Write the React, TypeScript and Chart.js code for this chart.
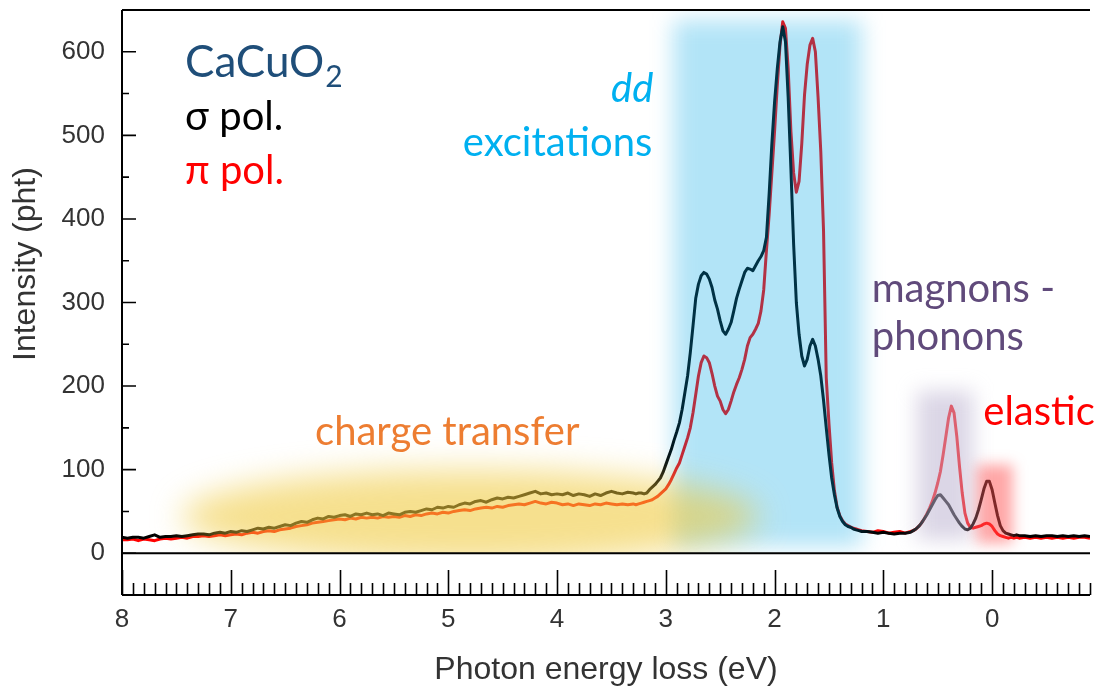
import React, { useEffect, useRef } from "react";
import { Chart, registerables } from "chart.js";

Chart.register(...registerables);

// Photon energy loss (eV) and RIXS intensity (pht) for CaCuO2, sigma and pi polarisation.
// Charge-transfer tail
const energyTail = [
  8.0, 7.95, 7.9, 7.85, 7.8, 7.75, 7.7, 7.65, 7.6, 7.55,
  7.5, 7.45, 7.4, 7.35, 7.3, 7.25, 7.2, 7.15, 7.1, 7.05,
  7.0, 6.95, 6.9, 6.85, 6.8, 6.75, 6.7, 6.65, 6.6, 6.55,
  6.5, 6.45, 6.4, 6.35, 6.3, 6.25, 6.2, 6.15, 6.1, 6.05,
  6.0, 5.95, 5.9, 5.85, 5.8, 5.75, 5.7, 5.65, 5.6, 5.55,
  5.5, 5.45, 5.4, 5.35, 5.3, 5.25, 5.2, 5.15, 5.1, 5.05,
  5.0, 4.95, 4.9, 4.85, 4.8, 4.75, 4.7, 4.65, 4.6, 4.55,
  4.5, 4.45, 4.4, 4.35, 4.3, 4.25, 4.2, 4.15, 4.1, 4.05,
  4.0, 3.95, 3.9, 3.85, 3.8, 3.75, 3.7, 3.65, 3.6, 3.55,
  3.5, 3.45, 3.4, 3.35, 3.3,
];
const sigmaTail = [
  19, 18, 19, 19, 18, 20, 22, 19, 20, 20,
  21, 20, 21, 22, 23, 23, 22, 24, 25, 24,
  26, 25, 27, 26, 28, 30, 29, 31, 30, 32,
  34, 33, 36, 38, 37, 40, 42, 41, 44, 43,
  45, 46, 44, 47, 46, 48, 46, 47, 45, 48,
  47, 46, 49, 50, 49, 51, 53, 52, 55, 54,
  56, 55, 58, 60, 59, 62, 63, 61, 64, 66,
  65, 67, 66, 68, 70, 72, 74, 71, 72, 70,
  71, 70, 72, 69, 71, 70, 68, 71, 69, 72,
  74, 72, 71, 73, 72,
];
const piTail = [
  16, 16, 17, 15, 17, 16, 15, 17, 18, 17,
  18, 19, 18, 20, 20, 21, 20, 21, 22, 21,
  22, 23, 22, 24, 25, 24, 26, 27, 26, 28,
  29, 30, 32, 33, 34, 36, 37, 38, 39, 40,
  41, 40, 42, 41, 43, 42, 43, 42, 44, 43,
  44, 43, 45, 44, 46, 45, 47, 48, 47, 49,
  48, 50, 51, 52, 51, 53, 54, 55, 54, 56,
  55, 57, 58, 59, 58, 60, 62, 60, 59, 61,
  60, 58, 59, 57, 59, 58, 57, 59, 58, 60,
  59, 58, 59, 58, 59,
];

// dd excitations
const energyDD = [
  3.275, 3.25, 3.225, 3.2, 3.175, 3.15, 3.125, 3.1, 3.075, 3.05,
  3.025, 3.0, 2.975, 2.95, 2.925, 2.9, 2.875, 2.85, 2.825, 2.8,
  2.775, 2.75, 2.725, 2.7, 2.675, 2.65, 2.625, 2.6, 2.575, 2.55,
  2.525, 2.5, 2.475, 2.45, 2.425, 2.4, 2.375, 2.35, 2.325, 2.3,
  2.275, 2.25, 2.225, 2.2, 2.175, 2.15, 2.125, 2.1, 2.075, 2.05,
  2.025, 2.0, 1.975, 1.95, 1.925, 1.9, 1.875, 1.85, 1.825, 1.8,
  1.775, 1.75, 1.725, 1.7, 1.675, 1.65, 1.625, 1.6, 1.575, 1.55,
  1.525, 1.5, 1.475, 1.45, 1.425, 1.4, 1.375, 1.35, 1.325, 1.3,
  1.275, 1.25, 1.225, 1.2,
];
const sigmaDD = [
  71, 72, 72, 71, 72, 76, 79, 82, 86, 90,
  97, 106, 115, 124, 135, 145, 156, 172, 192, 212,
  240, 272, 305, 322, 332, 336, 334, 328, 318, 303,
  292, 278, 266, 262, 268, 276, 290, 305, 316, 326,
  336, 341, 340, 338, 344, 350, 355, 362, 378, 430,
  490, 540, 580, 612, 630, 612, 545, 460, 370, 300,
  262, 236, 224, 232, 248, 256, 248, 232, 212, 183,
  150, 118, 90, 70, 54, 44, 38, 34, 32, 31,
  29, 28, 27, 26,
];
const piDD = [
  58, 59, 60, 61, 62, 63, 64, 66, 68, 71,
  74, 77, 82, 88, 95, 102, 108, 118, 128, 138,
  150, 168, 190, 212, 228, 236, 234, 228, 215, 200,
  188, 182, 172, 167, 172, 182, 193, 202, 210, 220,
  232, 248, 258, 262, 268, 275, 290, 315, 362, 405,
  455, 505, 560, 608, 636, 628, 580, 505, 455, 432,
  445, 490, 548, 585, 608, 616, 600, 545, 480, 386,
  210, 155, 108, 75, 55, 45, 39, 35, 33, 31,
  30, 29, 28, 27,
];

// magnons, phonons and the elastic line
const energyLow = [
  1.15, 1.1, 1.05, 1.0, 0.95, 0.9, 0.85, 0.8, 0.75,
  0.725, 0.7, 0.675, 0.65, 0.625, 0.6, 0.575, 0.55, 0.525, 0.5,
  0.475, 0.45, 0.425, 0.4, 0.375, 0.35, 0.325, 0.3, 0.275, 0.25,
  0.225, 0.2, 0.175, 0.15, 0.125, 0.1, 0.075, 0.05, 0.025, 0.0,
  -0.025, -0.05, -0.075, -0.1, -0.125, -0.15, -0.175, -0.2, -0.225, -0.25,
  -0.3, -0.35, -0.4, -0.45, -0.5, -0.55, -0.6, -0.65, -0.7, -0.75, -0.8, -0.85, -0.9,
];
const sigmaLow = [
  26, 25, 24, 25, 24, 23, 24, 24, 25,
  27, 29, 32, 36, 41, 46, 52, 58, 64, 69,
  70, 66, 62, 58, 52, 46, 41, 36, 32, 29,
  28, 30, 35, 42, 52, 64, 77, 86, 86, 76,
  60, 45, 33, 27, 24, 23, 22, 21, 22, 21,
  21, 20, 21, 20, 21, 21, 20, 21, 20, 21, 20, 21, 20,
];
const piLow = [
  26, 25, 27, 26, 24, 25, 26, 24, 26,
  27, 29, 32, 36, 41, 47, 54, 62, 72, 84,
  98, 118, 140, 162, 176, 168, 140, 104, 72, 48,
  36, 31, 30, 31, 32, 33, 35, 36, 35, 32,
  27, 23, 21, 20, 19, 18, 19, 18, 19, 18,
  19, 18, 19, 18, 19, 18, 19, 18, 19, 18, 19, 19, 18,
];

const energy = [...energyTail, ...energyDD, ...energyLow];
const sigmaPol = [...sigmaTail, ...sigmaDD, ...sigmaLow];
const piPol = [...piTail, ...piDD, ...piLow];

const xTickValues = [8, 7, 6, 5, 4, 3, 2, 1, 0];
const yTickValues = [0, 100, 200, 300, 400, 500, 600];
const yMinorValues = [50, 150, 250, 350, 450, 550];

// Shaded spectral regions, in data units (eV, pht)
const bands = [
  { kind: "rect", x0: 2.93, x1: 1.2, y0: 8, y1: 638, color: "rgb(0,165,228)", alpha: 0.3, blur: 11 },
  { kind: "ellipse", x0: 7.45, x1: 2.15, y0: -12, y1: 100, color: "rgb(240,202,60)", alpha: 0.58, blur: 16 },
  { kind: "rect", x0: 0.69, x1: 0.175, y0: 16, y1: 194, color: "rgb(190,180,210)", alpha: 0.55, blur: 10 },
  { kind: "rect", x0: 0.14, x1: -0.19, y0: 12, y1: 106, color: "rgb(255,80,80)", alpha: 0.5, blur: 7 },
];

const NOTE_FONT = 'Lato, "Noto Sans", sans-serif';
const notes = [
  { text: "charge transfer", x: 6.225, y: 130, color: "#ed7d31", size: 40, align: "left", italic: false },
  { text: "dd", x: 3.115, y: 540, color: "#00b0f0", size: 40, align: "right", italic: true },
  { text: "excitations", x: 3.124, y: 475, color: "#00b0f0", size: 40, align: "right", italic: false },
  { text: "magnons -", x: 1.107, y: 301, color: "#604a7b", size: 40, align: "left", italic: false },
  { text: "phonons", x: 1.107, y: 243, color: "#604a7b", size: 40, align: "left", italic: false },
  { text: "elastic", x: 0.081, y: 153, color: "#ff0000", size: 40, align: "left", italic: false },
  { text: "σ pol.", x: 7.42, y: 506, color: "#000000", size: 40, align: "left", italic: false },
  { text: "π pol.", x: 7.42, y: 442, color: "#ff0000", size: 40, align: "left", italic: false },
];
const sample = { text: "CaCuO", sub: "2", x: 7.42, y: 570, color: "#1f4e79", size: 44, subSize: 30 };

const AXIS_FONT = '"Liberation Sans", Arial, sans-serif';

const decorations = {
  id: "decorations",
  afterDatasetsDraw(chart: any) {
    const { ctx, chartArea: a, scales } = chart;
    const xs = scales.x;
    const ys = scales.y;
    const zeroY = ys.getPixelForValue(0);

    // translucent region highlights laid over the spectra
    ctx.save();
    ctx.beginPath();
    ctx.rect(a.left, a.top, a.right - a.left, zeroY - a.top);
    ctx.clip();
    for (const b of bands) {
      const px0 = xs.getPixelForValue(b.x0);
      const px1 = xs.getPixelForValue(b.x1);
      const py0 = ys.getPixelForValue(b.y1);
      const py1 = ys.getPixelForValue(b.y0);
      ctx.filter = `blur(${b.blur}px)`;
      ctx.globalAlpha = b.alpha;
      ctx.fillStyle = b.color;
      ctx.beginPath();
      if (b.kind === "ellipse") {
        ctx.ellipse((px0 + px1) / 2, (py0 + py1) / 2, Math.abs(px1 - px0) / 2, Math.abs(py1 - py0) / 2, 0, 0, Math.PI * 2);
      } else {
        ctx.rect(Math.min(px0, px1), py0, Math.abs(px1 - px0), py1 - py0);
      }
      ctx.fill();
    }
    ctx.restore();

    // frame, zero line and inward tick marks
    ctx.save();
    ctx.strokeStyle = "#000";
    ctx.lineWidth = 2;
    ctx.beginPath();
    ctx.moveTo(a.left, a.top);
    ctx.lineTo(a.right, a.top);
    ctx.moveTo(a.left, a.top);
    ctx.lineTo(a.left, a.bottom);
    ctx.moveTo(a.left, a.bottom);
    ctx.lineTo(a.right, a.bottom);
    ctx.moveTo(a.left, zeroY);
    ctx.lineTo(a.right, zeroY);
    ctx.stroke();

    ctx.lineWidth = 1.6;
    ctx.beginPath();
    for (const v of yTickValues) {
      const p = ys.getPixelForValue(v);
      ctx.moveTo(a.left, p);
      ctx.lineTo(a.left + 14, p);
    }
    for (const v of yMinorValues) {
      const p = ys.getPixelForValue(v);
      ctx.moveTo(a.left, p);
      ctx.lineTo(a.left + 7, p);
    }
    for (let k = Math.ceil(xs.min * 10); k <= Math.floor(xs.max * 10); k++) {
      const p = Math.round(xs.getPixelForValue(k / 10)) + 0.5;
      const len = k % 10 === 0 ? 25 : 12;
      ctx.moveTo(p, a.bottom);
      ctx.lineTo(p, a.bottom - len);
    }
    ctx.stroke();
    ctx.restore();

    // y-axis title
    ctx.save();
    ctx.fillStyle = "#333";
    ctx.font = `32px ${AXIS_FONT}`;
    ctx.textAlign = "center";
    ctx.textBaseline = "alphabetic";
    ctx.translate(35, ys.getPixelForValue(346));
    ctx.rotate(-Math.PI / 2);
    ctx.fillText("Intensity (pht)", 0, 0);
    ctx.restore();

    // region annotations
    ctx.save();
    ctx.textBaseline = "alphabetic";
    for (const n of notes) {
      ctx.font = `${n.italic ? "italic " : ""}${n.size}px ${NOTE_FONT}`;
      ctx.fillStyle = n.color;
      ctx.textAlign = n.align as CanvasTextAlign;
      ctx.fillText(n.text, xs.getPixelForValue(n.x), ys.getPixelForValue(n.y));
    }
    const sx = xs.getPixelForValue(sample.x);
    const sy = ys.getPixelForValue(sample.y);
    ctx.textAlign = "left";
    ctx.fillStyle = sample.color;
    ctx.font = `${sample.size}px ${NOTE_FONT}`;
    ctx.fillText(sample.text, sx, sy);
    const w = ctx.measureText(sample.text).width;
    ctx.font = `${sample.subSize}px ${NOTE_FONT}`;
    ctx.fillText(sample.sub, sx + w + 1, sy + 10);
    ctx.restore();
  },
};

export default function App() {
  const canvasRef = useRef<HTMLCanvasElement>(null);

  useEffect(() => {
    const canvas = canvasRef.current;
    if (!canvas) return;
    const chart = new Chart(canvas, {
      type: "line",
      data: {
        datasets: [
          {
            label: "σ pol.",
            data: energy.map((e, i) => ({ x: e, y: sigmaPol[i] })),
            borderColor: "#000000",
            borderWidth: 3,
            pointRadius: 0,
            tension: 0,
            borderJoinStyle: "round",
          },
          {
            label: "π pol.",
            data: energy.map((e, i) => ({ x: e, y: piPol[i] })),
            borderColor: "#ff0000",
            borderWidth: 3,
            pointRadius: 0,
            tension: 0,
            borderJoinStyle: "round",
          },
        ],
      },
      options: {
        animation: false,
        responsive: false,
        maintainAspectRatio: false,
        devicePixelRatio: 1,
        layout: { padding: { left: 0, right: 5, top: 10, bottom: 0 } },
        plugins: { legend: { display: false }, tooltip: { enabled: false } },
        scales: {
          x: {
            type: "linear",
            reverse: true,
            min: -0.9,
            max: 8,
            grid: { display: false, drawTicks: false },
            border: { display: false },
            afterBuildTicks: (s: any) => {
              s.ticks = xTickValues.map((v) => ({ value: v }));
            },
            afterFit: (s: any) => {
              s.height = 94;
              s.paddingLeft = 0;
              s.paddingRight = 0;
            },
            ticks: {
              autoSkip: false,
              maxRotation: 0,
              padding: 9,
              color: "#333",
              font: { family: AXIS_FONT, size: 26 },
            },
            title: {
              display: true,
              text: "Photon energy loss (eV)",
              color: "#333",
              font: { family: AXIS_FONT, size: 32 },
              padding: { top: 0, bottom: 0 },
            },
          },
          y: {
            type: "linear",
            min: -50,
            max: 650,
            grid: { display: false, drawTicks: false },
            border: { display: false },
            afterBuildTicks: (s: any) => {
              s.ticks = yTickValues.map((v) => ({ value: v }));
            },
            afterFit: (s: any) => {
              s.width = 122;
              s.paddingTop = 0;
              s.paddingBottom = 0;
            },
            ticks: {
              autoSkip: false,
              padding: 17,
              color: "#333",
              font: { family: AXIS_FONT, size: 26 },
            },
          },
        },
      },
      plugins: [decorations],
    });
    return () => chart.destroy();
  }, []);

  return (
    <div style={{ position: "absolute", left: 0, top: 0, width: 1095, height: 689, background: "#fff" }}>
      <canvas ref={canvasRef} width={1095} height={689} style={{ display: "block" }} />
    </div>
  );
}
